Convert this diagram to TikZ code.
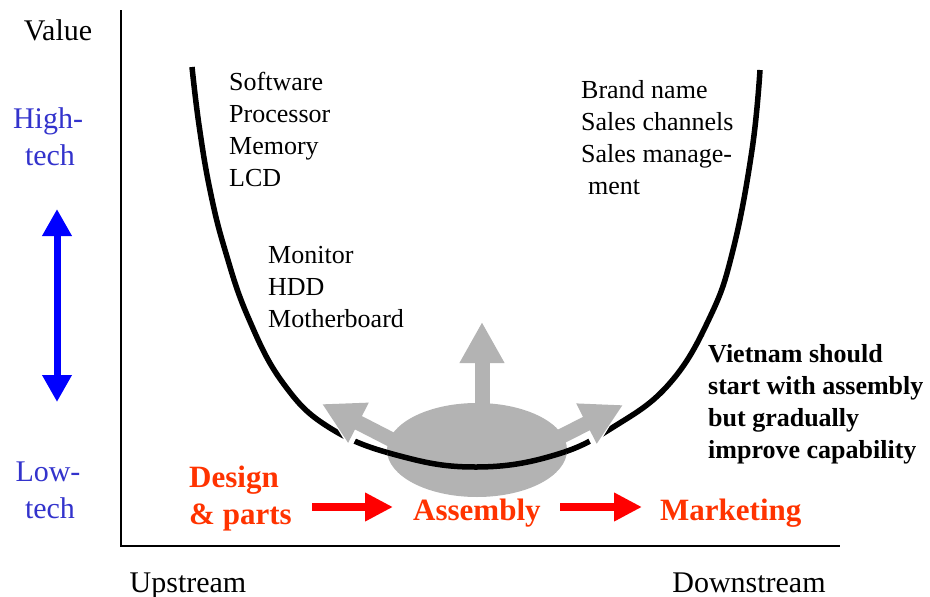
\documentclass[tikz,border=0pt]{standalone}
\usepackage{fontspec}
\setmainfont{Liberation Serif}
\usetikzlibrary{arrows.meta}
\definecolor{techblue}{RGB}{51,51,204}
\definecolor{orng}{RGB}{255,51,0}
\definecolor{grayfill}{RGB}{179,179,179}
\begin{document}
\begin{tikzpicture}[x=1pt,y=-1pt,
  lbl/.style={anchor=base west, inner sep=0, font=\fontsize{26}{32}\selectfont},
  bld/.style={anchor=base west, inner sep=0, font=\fontsize{26}{32}\selectfont\bfseries},
  axlbl/.style={anchor=base, inner sep=0, font=\fontsize{30}{36}\selectfont},
  techlbl/.style={anchor=base, inner sep=0, font=\fontsize{30}{36}\selectfont, text=techblue},
  stage/.style={anchor=base west, inner sep=0, font=\fontsize{31}{36}\selectfont\bfseries, text=orng},
  redarrow/.style={red, line width=8pt, -{Triangle[width=27pt,length=28pt]}},
  grayarrow/.style={grayfill, line width=15pt, -{Triangle[width=42pt,length=41pt]}},
  whitearrow/.style={white, line width=20pt, -{Triangle[width=52pt,length=46pt]}},
  ucurve/.style={line width=5.5pt}
]
\useasboundingbox (0,0) rectangle (930,597);
\def\ucurvepath{plot[smooth, tension=0.7] coordinates {(192,67) (199,125) (210,190) (225,250) (248,317) (283,383) (330,428) (400,456) (477,467) (555,455) (615,426) (670,383) (710,317) (733,250) (752,150) (760,70)}}

% axes
\coordinate (ytop) at (121,10);
\coordinate (origin) at (121,546);
\coordinate (xend) at (840,546);
\draw[line width=2.5pt] (ytop) -- (origin) -- (xend);

% axis labels
\node[axlbl] (value) at (58,40) {Value};
\node[techlbl] (high1) at (48,128) {High-};
\node[techlbl] (high2) at (50,165) {tech};
\node[techlbl] (low1) at (48,481) {Low-};
\node[techlbl] (low2) at (50,518) {tech};
\node[axlbl] (up) at (188,592) {Upstream};
\node[axlbl] (down) at (749,592) {Downstream};

% blue double arrow
\coordinate (btop) at (57,209);
\coordinate (bbot) at (57,402);
\draw[blue, line width=7pt, {Triangle[width=28pt,length=27pt]}-{Triangle[width=28pt,length=27pt]}] (btop) -- (bbot);

% smile curve
\draw[ucurve] \ucurvepath;

% arrow coordinates
\coordinate (lstart) at (394,441);
\coordinate (ltip) at (322,404);
\coordinate (rstart) at (560,437);
\coordinate (rtip) at (623,405);
\coordinate (ustart) at (482,412);
\coordinate (utip) at (482,322);

% white outlines
\draw[whitearrow] (lstart) -- (ltip);
\draw[whitearrow] (rstart) -- (rtip);

% ellipse
\fill[grayfill] (477,450) ellipse [x radius=90, y radius=47];
\node[inner sep=0, minimum size=0] (assemblyblob) at (477,450) {};
\begin{scope}
  \clip (477,450) ellipse [x radius=90, y radius=47];
  \draw[ucurve] \ucurvepath;
\end{scope}

% gray arrows
\draw[grayarrow] (lstart) -- (ltip);
\draw[grayarrow] (rstart) -- (rtip);
\draw[grayarrow] (ustart) -- (utip);

% text lists
\node[lbl] (sw) at (229,90) {Software};
\node[lbl] (proc) at (229,122) {Processor};
\node[lbl] (mem) at (229,154) {Memory};
\node[lbl] (lcd) at (229,186) {LCD};

\node[lbl] (mon) at (268,263) {Monitor};
\node[lbl] (hdd) at (268,295) {HDD};
\node[lbl] (mb) at (268,327) {Motherboard};

\node[lbl] (brand) at (581,98) {Brand name};
\node[lbl] (chan) at (581,130) {Sales channels};
\node[lbl] (mgmt) at (581,162) {Sales manage-};
\node[lbl] (ment) at (588,194) {ment};

\node[bld] (vn1) at (708,362) {Vietnam should};
\node[bld] (vn2) at (708,394) {start with assembly};
\node[bld] (vn3) at (708,426) {but gradually};
\node[bld] (vn4) at (708,458) {improve capability};

% stages
\node[stage] (design) at (189,487) {Design};
\node[stage] (parts) at (189,524) {\& parts};
\node[stage] (assembly) at (413,520) {Assembly};
\node[stage] (marketing) at (660,520) {Marketing};

\coordinate (a1s) at (312,507);
\coordinate (a1e) at (393,507);
\coordinate (a2s) at (560,507);
\coordinate (a2e) at (642,507);
\draw[redarrow] (a1s) -- (a1e);
\draw[redarrow] (a2s) -- (a2e);
\end{tikzpicture}
\end{document}
